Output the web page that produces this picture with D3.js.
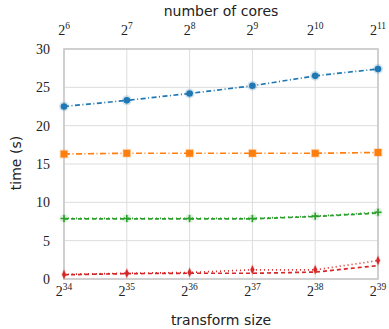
<!DOCTYPE html>
<html><head><meta charset="utf-8">
<script src="https://cdn.jsdelivr.net/npm/d3@7"></script>
<style>body{margin:0;background:#fff}</style>
</head><body>
<svg id="c" width="389" height="329"></svg>
<script>
const sizeExp = [34, 35, 36, 37, 38, 39];
const coreExp = [6, 7, 8, 9, 10, 11];
const yTicks = [0, 5, 10, 15, 20, 25, 30];
const blue = [22.5, 23.3, 24.2, 25.2, 26.5, 27.4];
const orange = [16.3, 16.4, 16.4, 16.4, 16.4, 16.5];
const greenDot = [7.9, 7.9, 7.9, 7.9, 8.2, 8.7];
const greenDash = [7.85, 7.85, 7.85, 7.85, 8.15, 8.6];
const redDot = [0.6, 0.75, 0.85, 1.2, 1.2, 2.4];
const redDash = [0.55, 0.7, 0.75, 0.75, 0.9, 1.75];

const svg = d3.select('#c');
const L = 64, R = 378, T = 49, B = 279;
const x = d3.scaleLog().base(2).domain([2**34, 2**39]).range([L, R]);
const xTop = d3.scaleLog().base(2).domain([2**6, 2**11]).range([L, R]);
const y = d3.scaleLinear().domain([0, 30]).range([B, T]);

const g = svg.append('g');
// grid
g.selectAll('.vg').data(sizeExp).enter().append('line')
  .attr('x1', d => x(2**d)).attr('x2', d => x(2**d)).attr('y1', T).attr('y2', B)
  .attr('stroke', '#dcdcdc').attr('stroke-width', 1);
g.selectAll('.hg').data(yTicks).enter().append('line')
  .attr('y1', d => y(d)).attr('y2', d => y(d)).attr('x1', L).attr('x2', R)
  .attr('stroke', '#dcdcdc').attr('stroke-width', 1);
g.append('rect').attr('x', L).attr('y', T).attr('width', R - L).attr('height', B - T)
  .attr('fill', 'none').attr('stroke', '#c8c8c8').attr('stroke-width', 1.6);

// y labels
g.selectAll('.yl').data(yTicks).enter().append('text')
  .attr('x', 50).attr('y', d => y(d) + 5).attr('text-anchor', 'end')
  .attr('font-family', 'Liberation Serif').attr('font-size', 14).attr('fill', '#222')
  .text(d => d);

function powLabel(sel, xs, yb) {
  sel.each(function(d) {
    const t = d3.select(this).append('text')
      .attr('x', xs(2**d)).attr('y', yb).attr('text-anchor', 'middle')
      .attr('font-family', 'Liberation Serif').attr('fill', '#222');
    t.append('tspan').attr('font-size', 14).text('2');
    t.append('tspan').attr('font-size', 9.5).attr('dy', -6).text(d);
  });
}
powLabel(g.selectAll('.bl').data(sizeExp).enter().append('g'), x, 296);
powLabel(g.selectAll('.tl').data(coreExp).enter().append('g'), xTop, 35);

g.append('text').attr('x', 221).attr('y', 16).attr('text-anchor', 'middle')
  .attr('font-family', 'DejaVu Sans').attr('font-size', 14).attr('fill', '#222').text('number of cores');
g.append('text').attr('x', 221).attr('y', 325).attr('text-anchor', 'middle')
  .attr('font-family', 'DejaVu Sans').attr('font-size', 14).attr('fill', '#222').text('transform size');
g.append('text').attr('transform', 'translate(21,163) rotate(-90)').attr('text-anchor', 'middle')
  .attr('font-family', 'DejaVu Sans').attr('font-size', 14).attr('fill', '#222').text('time (s)');

const line = d3.line().x((d, i) => x(2**sizeExp[i])).y(d => y(d));
function series(vals, color, dash, marker) {
  const s = svg.append('g');
  s.append('path').datum(vals).attr('d', line).attr('fill', 'none')
    .attr('stroke', color).attr('stroke-width', 1.7).attr('stroke-dasharray', dash);
  if (!marker) return;
  const pts = s.selectAll('.m').data(vals).enter().append('g')
    .attr('transform', (d, i) => `translate(${x(2**sizeExp[i])},${y(d)})`);
  if (marker === 'circle') {
    pts.append('circle').attr('r', 5).attr('fill', color).attr('opacity', 0.2);
    pts.append('circle').attr('r', 3.3).attr('fill', color);
  } else if (marker === 'square') {
    pts.append('rect').attr('x', -4.5).attr('y', -4.5).attr('width', 9).attr('height', 9).attr('fill', color).attr('opacity', 0.2);
    pts.append('rect').attr('x', -3.5).attr('y', -3.5).attr('width', 7).attr('height', 7).attr('fill', color);
  } else if (marker === 'plus') {
    pts.append('circle').attr('r', 4.5).attr('fill', color).attr('opacity', 0.15);
    pts.append('path').attr('d', 'M-3.5,0H3.5M0,-3.5V3.5').attr('stroke', color).attr('stroke-width', 1.6);
  } else if (marker === 'diamond') {
    pts.append('path').attr('d', 'M0,-6L3,0L0,6L-3,0Z').attr('fill', color).attr('opacity', 0.2);
    pts.append('path').attr('d', 'M0,-4.5L2,0L0,4.5L-2,0Z').attr('fill', color);
  }
}
series(blue, '#1f77b4', '5,2.5,1,2.5', 'circle');
series(orange, '#ff7f0e', '6,2.5,1,2.5', 'square');
series(greenDash, '#2ca02c', '4,3', null);
series(greenDot, '#2ca02c', '1,3', 'plus');
series(redDash, '#d62728', '4,3', null);
series(redDot, '#d62728', '1,3', 'diamond');
</script>
</body></html>
